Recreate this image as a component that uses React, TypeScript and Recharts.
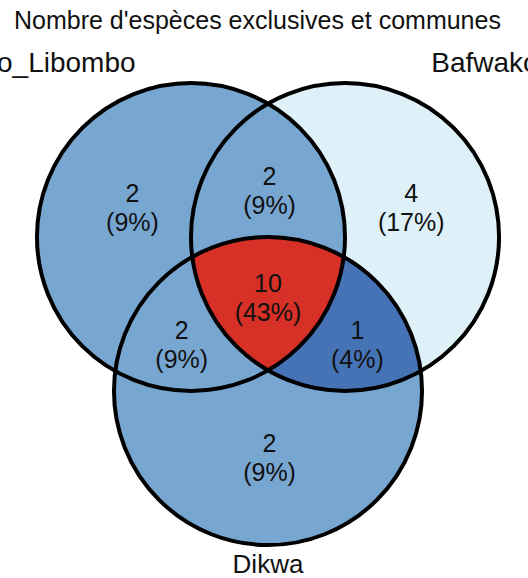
import React from 'react';
import { ScatterChart, Scatter, XAxis, YAxis } from 'recharts';

const CHART_W = 528;
const CHART_H = 578;
const FONT = "'Liberation Sans', Arial, sans-serif";

const title = "Nombre d'espèces exclusives et communes";

// circles, in units of one circle radius (y up)
const setKeys = ['A', 'B', 'C'];
const setX = [0, 1, 0.5];
const setY = [0, 0, -1];
const setR = [1, 1, 1];
const setColors = ['#77a7d1', '#dff1f8', '#77a7d1'];
const drawOrder = [1, 0, 2];

// set names
const catNames = ['o_Libombo', 'Bafwako', 'Dikwa'];
const catX = [-0.36, 1.56, 0.5];
const catY = [1.071, 1.071, -2.18];
const catAnchor = ['end', 'start', 'middle'];
const catSize = [28, 28, 26];

// regions
const regionKeys = ['A', 'AB', 'B', 'ABC', 'AC', 'BC', 'C'];
const regionCounts = [2, 2, 4, 10, 2, 1, 2];
const regionX = [-0.38, 0.51, 1.43, 0.5, -0.06, 1.08, 0.51];
const regionY = [0.19, 0.3, 0.19, -0.39, -0.7, -0.7, -1.43];

const darkBlue = '#4573b5';
const red = '#d73027';

const X_DOMAIN: [number, number] = [-1.24, 2.188];
const Y_DOMAIN: [number, number] = [-2.214, 1.539];
const pxPerUnit = CHART_W / (X_DOMAIN[1] - X_DOMAIN[0]);

const total = regionCounts.reduce((a, b) => a + b, 0);

const setData = drawOrder.map((i) => ({
  key: setKeys[i],
  x: setX[i],
  y: setY[i],
  r: setR[i],
  fill: setColors[i],
}));

const outlineData = setKeys.map((key, i) => ({ key, x: setX[i], y: setY[i], r: setR[i] }));

// B∩C in dark blue, then A∩B∩C in red, both drawn from circle C
const overlayData = [
  { x: setX[2], y: setY[2], r: setR[2], clip: ['B'], fill: darkBlue },
  { x: setX[2], y: setY[2], r: setR[2], clip: ['B', 'A'], fill: red },
];

const regionData = regionKeys.map((key, i) => ({
  key,
  x: regionX[i],
  y: regionY[i],
  count: regionCounts[i],
  pct: Math.round((regionCounts[i] / total) * 100),
}));

const catData = catNames.map((name, i) => ({
  name,
  x: catX[i],
  y: catY[i],
  anchor: catAnchor[i],
  size: catSize[i],
}));

const SetFill = (props: any) => {
  const { cx, cy, payload } = props;
  const r = payload.r * pxPerUnit;
  return (
    <g>
      <clipPath id={`venn-clip-${payload.key}`}>
        <circle cx={cx} cy={cy} r={r} />
      </clipPath>
      <circle cx={cx} cy={cy} r={r} fill={payload.fill} />
    </g>
  );
};

const OverlayFill = (props: any) => {
  const { cx, cy, payload } = props;
  const r = payload.r * pxPerUnit;
  let node = <circle cx={cx} cy={cy} r={r} fill={payload.fill} />;
  payload.clip.forEach((k: string) => {
    node = <g clipPath={`url(#venn-clip-${k})`}>{node}</g>;
  });
  return node;
};

const Outline = (props: any) => {
  const { cx, cy, payload } = props;
  return <circle cx={cx} cy={cy} r={payload.r * pxPerUnit} fill="none" stroke="#000" strokeWidth={4} />;
};

const RegionLabel = (props: any) => {
  const { cx, cy, payload } = props;
  return (
    <text textAnchor="middle" fontSize={25} fontFamily={FONT} fill="#111">
      <tspan x={cx} y={cy - 5.5}>{payload.count}</tspan>
      <tspan x={cx} y={cy + 23.5}>({payload.pct}%)</tspan>
    </text>
  );
};

const CatLabel = (props: any) => {
  const { cx, cy, payload } = props;
  return (
    <text x={cx} y={cy} textAnchor={payload.anchor} fontSize={payload.size} fontFamily={FONT} fill="#111">
      {payload.name}
    </text>
  );
};

export default function App() {
  return (
    <div style={{ position: 'absolute', left: 0, top: 0, width: CHART_W, height: CHART_H, background: '#fff' }}>
      <div
        style={{
          position: 'absolute',
          left: 14,
          top: 8,
          fontFamily: FONT,
          fontSize: 25,
          lineHeight: '25px',
          color: '#111',
          whiteSpace: 'nowrap',
        }}
      >
        {title}
      </div>
      <ScatterChart width={CHART_W} height={CHART_H} margin={{ top: 0, right: 0, bottom: 0, left: 0 }}>
        <XAxis type="number" dataKey="x" domain={X_DOMAIN} allowDataOverflow hide />
        <YAxis type="number" dataKey="y" domain={Y_DOMAIN} allowDataOverflow hide />
        <Scatter data={setData} shape={SetFill} isAnimationActive={false} />
        <Scatter data={overlayData} shape={OverlayFill} isAnimationActive={false} />
        <Scatter data={outlineData} shape={Outline} isAnimationActive={false} />
        <Scatter data={regionData} shape={RegionLabel} isAnimationActive={false} />
        <Scatter data={catData} shape={CatLabel} isAnimationActive={false} />
      </ScatterChart>
    </div>
  );
}
